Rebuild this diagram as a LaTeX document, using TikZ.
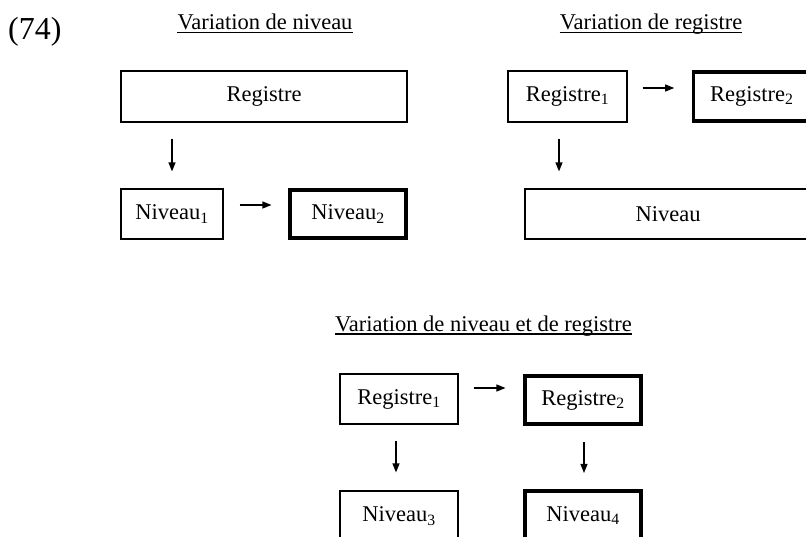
\documentclass[tikz,border=0pt]{standalone}
\usepackage{fontspec}
\setmainfont{Liberation Serif}
\usetikzlibrary{arrows.meta,calc}
\tikzset{
  txt/.style={font=\fontsize{22.5}{26}\selectfont},
  box/.style={draw, line width=1.2pt, txt, inner sep=0pt, anchor=center},
  thickbox/.style={draw, line width=3.6pt, txt, inner sep=0pt, anchor=center},
  ttl/.style={txt, inner sep=0pt, anchor=base},
  uline/.style={line width=1.1pt},
  arr/.style={line width=1.2pt, -{Triangle[length=9pt,width=7pt]}},
}
\begin{document}
\begin{tikzpicture}[x=1pt,y=-1pt]
\useasboundingbox (0,0) rectangle (806,536);
\clip (0,0) rectangle (806,536);
\fill[white] (0,0) rectangle (806,536);

\node[inner sep=0pt, anchor=base west, font=\fontsize{32}{36}\selectfont] (num) at (8,39) {(74)};

% Group 1: Variation de niveau
\node[ttl] (t1) at (265,29.5) {Variation de niveau};
\draw[uline] ($(t1.base west)+(0,3)$) -- ($(t1.base east)+(0,3)$);
\node[box, minimum width=286pt, minimum height=51pt] (reg) at (264,96.5) {Registre};
\node[box, minimum width=102pt, minimum height=50pt] (niv1) at (172,214) {Niveau\textsubscript{1}};
\node[thickbox, minimum width=116.5pt, minimum height=48.5pt] (niv2) at (348,214) {Niveau\textsubscript{2}};
\draw[arr] ($(reg.south -| niv1.north)+(0,16)$) -- ($(niv1.north)+(0,-17)$);
\draw[arr] ($(niv1.east)+(16,-9)$) -- ($(niv2.west)+(-16.5,-9)$);

% Group 2: Variation de registre
\node[ttl] (t2) at (651,29.5) {Variation de registre};
\draw[uline] ($(t2.base west)+(0,3)$) -- ($(t2.base east)+(0,3)$);
\node[box, minimum width=119pt, minimum height=51pt] (r1) at (567.5,96.5) {Registre\textsubscript{1}};
\node[thickbox, minimum width=116.5pt, minimum height=49.5pt] (r2) at (751.75,96.5) {Registre\textsubscript{2}};
\node[box, minimum width=286pt, minimum height=50pt] (niv) at (668,214) {Niveau};
\draw[arr] ($(r1.east)+(15,-8.5)$) -- ($(r2.west)+(-17.5,-8.5)$);
\draw[arr] ($(r1.south)+(-8.5,16)$) coordinate (a2) -- ($(a2 |- niv.north)+(0,-17)$);

% Group 3: Variation de niveau et de registre
\node[ttl] (t3) at (483.5,331) {Variation de niveau et de registre};
\draw[uline] ($(t3.base west)+(0,3)$) -- ($(t3.base east)+(0,3)$);
\node[box, minimum width=118pt, minimum height=50pt] (r3a) at (399,399) {Registre\textsubscript{1}};
\node[thickbox, minimum width=116.5pt, minimum height=48.5pt] (r3b) at (583,400) {Registre\textsubscript{2}};
\node[box, minimum width=118pt, minimum height=50pt] (n3) at (399,516) {Niveau\textsubscript{3}};
\node[thickbox, minimum width=116.5pt, minimum height=48.5pt] (n4) at (583,515.5) {Niveau\textsubscript{4}};
\draw[arr] ($(r3a.east)+(15,-11)$) -- ($(r3b.west)+(-17.5,-12)$);
\draw[arr] ($(r3a.south)+(-3,16)$) coordinate (a3) -- ($(a3 |- n3.north)+(0,-18)$);
\draw[arr] ($(r3b.south)+(1,16)$) coordinate (a4) -- ($(a4 |- n4.north)+(0,-16.5)$);
\end{tikzpicture}
\end{document}
